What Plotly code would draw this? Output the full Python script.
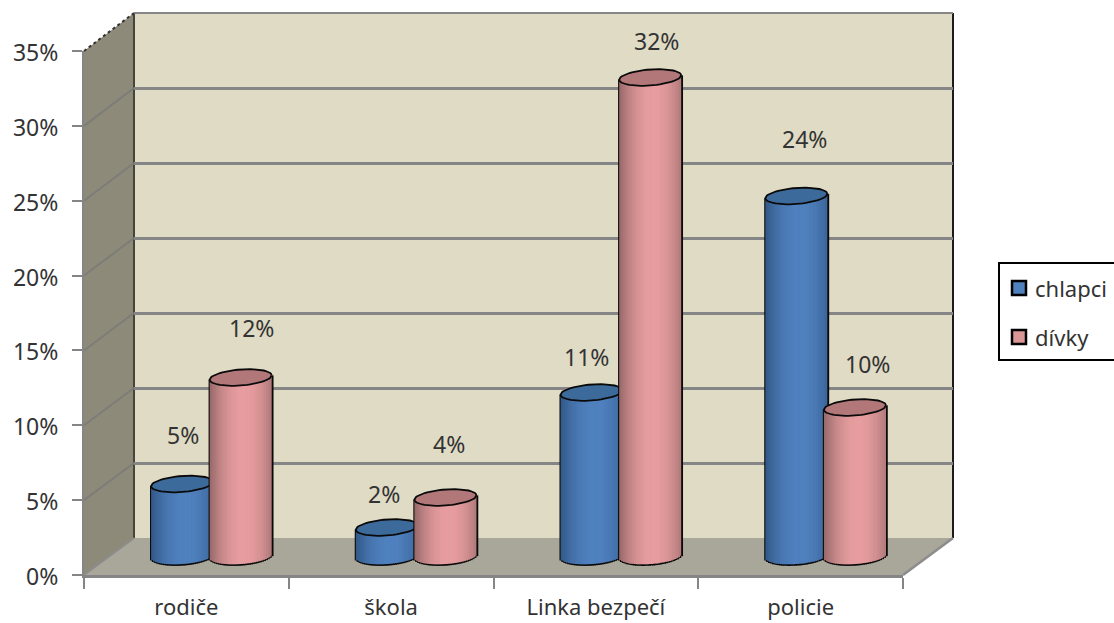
import math
import plotly.graph_objects as go

categories = ["rodiče", "škola", "Linka bezpečí", "policie"]
series_names = ["chlapci", "dívky"]
chlapci = [4.8, 1.9, 10.9, 24.0]
divky = [11.9, 3.9, 31.9, 9.9]
label_chlapci = ["5%", "2%", "11%", "24%"]
label_divky = ["12%", "4%", "32%", "10%"]
y_ticks = [0, 5, 10, 15, 20, 25, 30, 35]

# label nudges in pixels (dx, dy above bar top)
nudge_chlapci = [(1, 49), (-3, 34), (-5, 36), (8, 57)]
nudge_divky = [(11, 50), (4, 54), (6, 36), (13, 44)]

W, H = 1114, 623
FONT = "Noto Sans"
FS = 23
TXT = "#333333"
GRID = "#858585"

def px(x):
    return x / W

def py(y):
    return 1 - y / H

def poly(points):
    return "M " + " L ".join(f"{px(x):.5f},{py(y):.5f}" for x, y in points) + " Z"

# plane geometry (pixels)
F_L, F_R, F_T, F_B = 84, 903, 51, 575      # front plane
B_L, B_R, B_T, B_B = 134, 953, 13, 538     # back wall
M_L, M_R, M_T, M_B = 109, 928, 31, 556     # plane the cylinders stand on
PAD = 40                                   # extra room under the cylinder plane
PX_Y = (M_B - M_T) / 35
PX_X = (M_R - M_L) / 4

R_X = 31 / PX_X
R_Y = 8 / PX_Y
TILT = 2.2 / PX_Y
OFF = 29.3 / PX_X
N = 34

def lerp(a, b, t):
    return tuple(a[i] + (b[i] - a[i]) * t for i in range(3))

def shade(u, edge, mid):
    t = 1 - abs((u - 0.1) / 1.1) ** 2.0
    c = lerp(edge, mid, max(0, min(1, t)))
    return "rgb(%d,%d,%d)" % c

fig = go.Figure()

def add_cylinders(vals, center, edge, mid, cap, xa, ya):
    pos = [0, 1, 2, 3]
    # black silhouette
    sw = 2 * (R_X + 1.1 / PX_X) / N
    for j in range(N):
        u = -1 + (j + 0.5) * 2 / N
        bases = [-(R_Y + 0.11) * math.sqrt(1 - u * u) + TILT * u for _ in vals]
        fig.add_trace(go.Bar(x=pos, y=[v + TILT * u - b for v, b in zip(vals, bases)], base=bases,
                             offset=center - (R_X + 1.1 / PX_X) + j * sw, width=sw * 1.4,
                             marker=dict(color="#0a0a0a", line=dict(width=0)),
                             xaxis=xa, yaxis=ya, showlegend=False, hoverinfo="skip"))
    # shaded body
    sw = 2 * R_X / N
    for j in range(N):
        u = -1 + (j + 0.5) * 2 / N
        bases = [-R_Y * math.sqrt(1 - u * u) + TILT * u for _ in vals]
        fig.add_trace(go.Bar(x=pos, y=[v + TILT * u - b for v, b in zip(vals, bases)], base=bases,
                             offset=center - R_X + j * sw, width=sw * 1.4 if j < N - 1 else sw,
                             marker=dict(color=shade(u, edge, mid), line=dict(width=0)),
                             xaxis=xa, yaxis=ya, showlegend=False, hoverinfo="skip"))
    # top caps
    for p, v in zip(pos, vals):
        ts = [i * 2 * math.pi / 60 for i in range(61)]
        fig.add_trace(go.Scatter(
            x=[p + center + R_X * math.cos(t) for t in ts],
            y=[v + R_Y * math.sin(t) + TILT * math.cos(t) for t in ts],
            mode="lines", fill="toself", fillcolor=cap,
            line=dict(color="#0a0a0a", width=1.8), xaxis=xa, yaxis=ya,
            showlegend=False, hoverinfo="skip"))

# front plane: carries the tick labels
fig.add_trace(go.Scatter(x=categories, y=[None] * 4, xaxis="x", yaxis="y", showlegend=False, hoverinfo="skip"))
# back wall: carries the gridlines
fig.add_trace(go.Scatter(x=[0], y=[None], xaxis="x2", yaxis="y2", showlegend=False, hoverinfo="skip"))

add_cylinders(chlapci, -OFF, (50, 88, 135), (80, 130, 192), "#3c6a9b", "x3", "y3")
add_cylinders(divky, OFF, (150, 104, 105), (232, 158, 160), "#b27779", "x4", "y4")

shapes = [
    dict(type="path", path=poly([(F_L, F_T), (B_L, B_T), (B_L, B_B), (F_L, F_B)]), xref="paper", yref="paper",
         fillcolor="#8e8a79", line=dict(width=0), layer="below"),
    dict(type="path", path=poly([(B_L, B_T), (B_R, B_T), (B_R, B_B), (B_L, B_B)]), xref="paper", yref="paper",
         fillcolor="#dfdbc5", line=dict(width=0), layer="below"),
    dict(type="path", path=poly([(F_L, F_B), (F_R, F_B), (B_R, B_B), (B_L, B_B)]), xref="paper", yref="paper",
         fillcolor="#a9a799", line=dict(width=0), layer="below"),
]

def seg(p, q, color, width, dash="solid"):
    return dict(type="line", xref="paper", yref="paper", x0=px(p[0]), y0=py(p[1]), x1=px(q[0]), y1=py(q[1]),
                line=dict(color=color, width=width, dash=dash), layer="below")

shapes += [
    seg((B_L, B_T), (B_L, B_B), "#45453c", 2),
    seg((B_R, B_T), (B_R, B_B), "#1c1c18", 2),
    seg((B_L, B_T), (B_R, B_T), GRID, 2),
    seg((F_L, F_T), (B_L, B_T), "#333333", 2, "dot"),
    seg((F_R, F_B), (B_R, B_B), "#8c8c8c", 2.5),
    seg((F_L, F_B), (B_L, B_B), "#8c8c8c", 2),
]
for t in y_ticks[1:-1]:
    s = t / 35
    yf = F_B + (F_T - F_B) * s
    yb = B_B + (B_T - B_B) * s
    shapes.append(seg((F_L, yf), (B_L, yb), "#7d7d78", 2))

annotations = []
for i, (v, l, n) in enumerate(zip(chlapci, label_chlapci, nudge_chlapci)):
    annotations.append(dict(x=i - OFF, y=v, xref="x3", yref="y3", text=l, showarrow=False,
                            xshift=n[0], yshift=n[1], font=dict(family=FONT, size=FS, color=TXT)))
for i, (v, l, n) in enumerate(zip(divky, label_divky, nudge_divky)):
    annotations.append(dict(x=i + OFF, y=v, xref="x4", yref="y4", text=l, showarrow=False,
                            xshift=n[0], yshift=n[1], font=dict(family=FONT, size=FS, color=TXT)))

# legend box, its right side runs to the page edge as in the original
shapes.append(dict(type="rect", xref="paper", yref="paper", x0=px(999), x1=px(1125), y0=py(360), y1=py(263),
                   line=dict(color="black", width=2), fillcolor="white", layer="above"))
for name, col, yc in zip(series_names, ["#4f81bd", "#d99694"], [288, 337]):
    shapes.append(dict(type="rect", xref="paper", yref="paper", x0=px(1012), x1=px(1026), y0=py(yc + 7), y1=py(yc - 7),
                       line=dict(color="black", width=2.5), fillcolor=col, layer="above"))
    annotations.append(dict(x=px(1033), y=py(yc), xref="paper", yref="paper", text=name, showarrow=False,
                            xanchor="left", font=dict(family=FONT, size=22, color=TXT)))

M_B_EXT = M_B + PAD
hidden = dict(visible=False, fixedrange=True, automargin=False)

fig.update_layout(
    width=W, height=H, margin=dict(l=0, r=0, t=0, b=0, pad=0), autosize=False,
    paper_bgcolor="white", plot_bgcolor="rgba(0,0,0,0)",
    barmode="overlay", shapes=shapes, annotations=annotations, showlegend=False,
    font=dict(family=FONT, size=FS, color=TXT),
    xaxis=dict(domain=[px(F_L), px(F_R)], type="category", categoryorder="array", categoryarray=categories,
               range=[-0.5, 3.5], tickson="boundaries", ticks="outside", ticklen=11, tickwidth=2, tickcolor=GRID,
               showgrid=False, showline=True, linecolor=GRID, linewidth=2.5, anchor="y", zeroline=False,
               automargin=False, ticklabelstandoff=11, tickfont=dict(family=FONT, size=22, color=TXT)),
    yaxis=dict(domain=[py(F_B), py(F_T)], range=[0, 35], tickvals=y_ticks, ticktext=[f"{t}%" for t in y_ticks],
               ticks="outside", ticklen=10, tickwidth=2, tickcolor=GRID, showgrid=False, showline=True,
               linecolor=GRID, linewidth=2, anchor="x", zeroline=False, automargin=False, ticklabelstandoff=9,
               ticklabelshift=2, tickfont=dict(family=FONT, size=FS, color=TXT)),
    xaxis2=dict(domain=[px(B_L), px(B_R)], range=[0, 1], anchor="y2", **hidden),
    yaxis2=dict(domain=[py(B_B), py(B_T)], range=[0, 35], tickvals=y_ticks, showgrid=True, gridcolor=GRID,
                gridwidth=2.5, zeroline=False, showticklabels=False, ticks="", anchor="x2", fixedrange=True,
                automargin=False),
    xaxis3=dict(domain=[px(M_L), px(M_R)], range=[-0.5, 3.5], anchor="y3", **hidden),
    yaxis3=dict(domain=[py(M_B_EXT), py(M_T)], range=[-PAD / PX_Y, 35], anchor="x3", **hidden),
    xaxis4=dict(domain=[px(M_L), px(M_R)], range=[-0.5, 3.5], anchor="y4", **hidden),
    yaxis4=dict(domain=[py(M_B_EXT), py(M_T)], range=[-PAD / PX_Y, 35], anchor="x4", **hidden),
)

fig.write_html("out.html", config=dict(displayModeBar=False),
               post_script="document.body.style.margin='0';document.body.style.overflow='hidden';")
